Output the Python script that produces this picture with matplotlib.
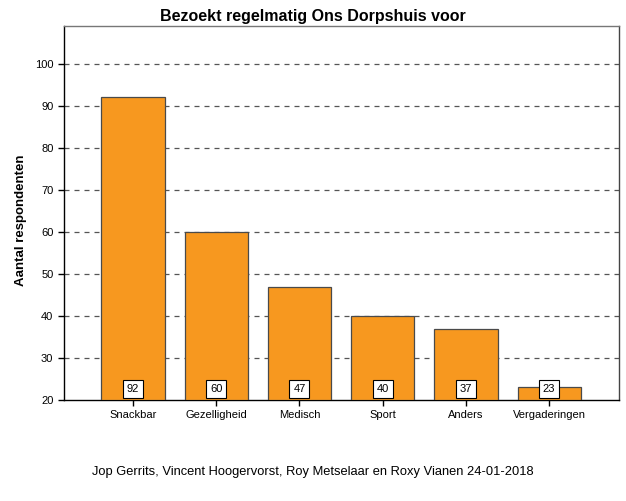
import matplotlib
matplotlib.use("Agg")
import matplotlib.pyplot as plt
import numpy as np

plt.rcParams['font.family'] = ['Liberation Sans', 'DejaVu Sans']

categories = ["Snackbar", "Gezelligheid", "Medisch", "Sport", "Anders", "Vergaderingen"]
counts = [92, 60, 47, 40, 37, 23]
yticks = [20, 30, 40, 50, 60, 70, 80, 90, 100]

fig = plt.figure(figsize=(6.26, 5.01), dpi=100)
ax = fig.add_axes([0.102, 0.2016, 0.887, 0.7465])

x = np.arange(len(categories))
ax.bar(x, [c - 20 for c in counts], bottom=20, width=0.76,
       color="#F7981F", edgecolor="#4a4a4a", linewidth=0.9, zorder=3)

for xi, c in zip(x, counts):
    ax.text(xi, 22.7, str(c), ha="center", va="center", fontsize=8, zorder=5,
            bbox=dict(boxstyle="square,pad=0.35", facecolor="white",
                      edgecolor="black", linewidth=0.8))

ax.set_xlim(-0.83, 5.84)
ax.set_ylim(20, 109)
ax.set_yticks(yticks)
ax.set_xticks(x)
ax.set_xticklabels(categories, fontsize=8)
ax.tick_params(axis="y", labelsize=8, length=4, width=1)
ax.tick_params(axis="x", length=4, width=1)
for y in yticks[1:]:
    ax.axhline(y, color="#555555", linestyle=(0, (4, 4)), linewidth=0.9, zorder=1)

ax.spines["left"].set_color("black")
ax.spines["bottom"].set_color("black")
ax.spines["top"].set_color("#777777")
ax.spines["right"].set_color("#444444")
for s in ax.spines.values():
    s.set_linewidth(1.0)

ax.set_ylabel("Aantal respondenten", fontsize=9.5, fontweight="bold")
ax.yaxis.set_label_coords(-0.066, 0.48)
fig.text(0.5, 0.968, "Bezoekt regelmatig Ons Dorpshuis voor", ha="center", va="center",
         fontsize=11.5, fontweight="bold")

fig.text(0.5, 0.052, "Jop Gerrits, Vincent Hoogervorst, Roy Metselaar en Roxy Vianen 24-01-2018",
         ha="center", fontsize=9.3)

fig.savefig("out.png", dpi=100)
